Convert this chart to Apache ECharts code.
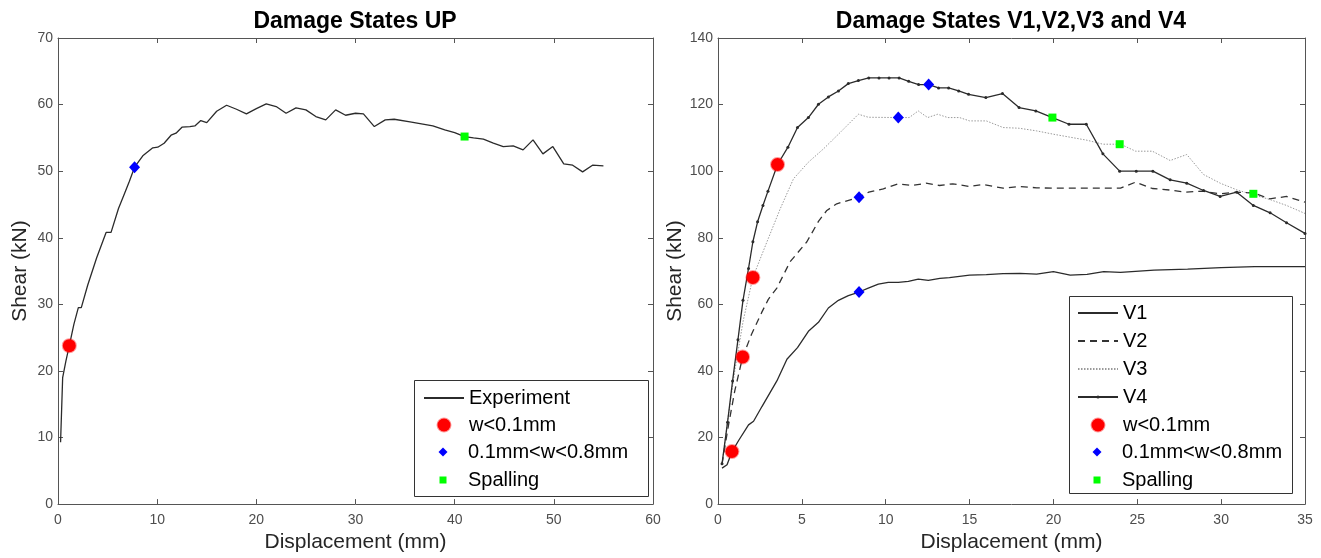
<!DOCTYPE html>
<html>
<head>
<meta charset="utf-8">
<script src="https://cdn.jsdelivr.net/npm/echarts@6/dist/echarts.min.js"></script>
<style>
  html, body { margin: 0; padding: 0; background: #fff; }
  #chart { width: 1321px; height: 558px; }
</style>
</head>
<body>
<div id="chart"></div>
<script>
// Left panel: experiment curve (displacement mm, shear kN)
const experiment = [
  [0.26, 9.3], [0.47, 19], [0.8, 21.5], [1.14, 23.8], [1.6, 27], [2.05, 29.5], [2.35, 29.5],
  [3.0, 32.9], [3.9, 37], [4.85, 40.8], [5.35, 40.8], [6.1, 44.4], [6.7, 46.6], [7.2, 48.5],
  [7.72, 50.6], [8.55, 52.3], [9.56, 53.5], [10.06, 53.6], [10.7, 54.2], [11.4, 55.4], [11.9, 55.7],
  [12.5, 56.6], [13.3, 56.7], [13.8, 56.8], [14.4, 57.6], [15.0, 57.3], [16.0, 59.0], [17.0, 59.9],
  [18.0, 59.3], [19.0, 58.6], [20.0, 59.4], [21.0, 60.1], [22.0, 59.7], [23.0, 58.7], [24.0, 59.5],
  [25.0, 59.2], [26.0, 58.2], [27.0, 57.7], [28.0, 59.2], [29.0, 58.4], [30.0, 58.7], [30.8, 58.6],
  [31.9, 56.7], [33.0, 57.7], [33.9, 57.8], [35.5, 57.4], [37.8, 56.8], [39.0, 56.2], [40.0, 55.8],
  [41.0, 55.2], [41.9, 55.0], [42.9, 54.8], [43.9, 54.2], [44.9, 53.7], [45.9, 53.8], [46.9, 53.2],
  [47.9, 54.7], [48.9, 52.6], [49.9, 53.7], [51.0, 51.1], [51.9, 50.9], [52.9, 49.9], [53.9, 50.9],
  [55.0, 50.8]
]
const upSmallCrack = [[1.14, 23.8]]
const upWideCrack = [[7.72, 50.6]]
const upSpalling = [[41.0, 55.2]]

// Right panel: V1..V4
const v1 = [
  [0.24, 10.8], [0.54, 11.8], [0.83, 15.7], [1.23, 19.1], [1.82, 23.8], [2.12, 24.9], [2.62, 29.3],
  [3.51, 37.0], [4.11, 43.5], [4.74, 47.0], [5.39, 51.9], [5.99, 54.6], [6.58, 58.9], [7.18, 61.2],
  [7.77, 62.6], [8.41, 63.7], [8.96, 64.9], [9.56, 66.1], [10.15, 66.6], [10.75, 66.6], [11.35, 66.9],
  [11.94, 67.6], [12.54, 67.2], [13.23, 67.8], [13.8, 68.0], [15.0, 68.8], [16.0, 68.9], [17.0, 69.2],
  [18.0, 69.3], [19.0, 69.1], [20.0, 69.8], [21.0, 68.8], [22.0, 69.0], [23.0, 69.8], [24.0, 69.6],
  [26.0, 70.3], [28.0, 70.6], [30.0, 71.0], [32.0, 71.3], [35.0, 71.3]
]
const v2 = [
  [0.24, 12], [0.6, 23], [1.0, 34], [1.47, 44.2], [2.0, 51], [2.6, 57.5], [3.0, 61.5], [3.51, 64.9],
  [4.3, 72.8], [5.3, 78.8], [6.0, 85], [6.49, 88.2], [7.08, 90.2], [8.41, 92.2], [8.99, 93.7],
  [9.86, 94.7], [10.75, 96.2], [11.6, 95.7], [12.4, 96.4], [13.2, 95.7], [14.0, 96.2], [15.0, 95.4],
  [15.8, 96.0], [17.0, 94.9], [18.0, 95.4], [19.0, 95.0], [20.0, 94.9], [22.0, 94.9], [24.0, 94.9],
  [24.9, 96.7], [25.9, 94.8], [27.0, 94.3], [27.9, 93.7], [28.9, 94.0], [29.9, 93.2], [30.9, 93.7],
  [31.9, 93.5], [32.9, 91.7], [33.9, 92.4], [35.0, 90.7]
]
const v3 = [
  [0.24, 12], [0.6, 26], [1.0, 40], [1.5, 55], [2.08, 68.1], [2.92, 78.8], [3.71, 88.7], [4.5, 97.7],
  [5.39, 102.7], [6.29, 106.7], [7.28, 111.6], [8.37, 117.1], [8.96, 116.2], [10.75, 116.1],
  [11.4, 116.1], [11.94, 118.1], [12.5, 116.1], [13.1, 117.1], [13.7, 116.1], [14.4, 116.1],
  [15.0, 115.1], [16.0, 115.1], [17.0, 113.1], [17.95, 112.9], [19.0, 112.1], [20.0, 111.1],
  [22.0, 109.3], [22.95, 108.1], [24.0, 108.1], [24.9, 106.0], [25.9, 106.0], [26.96, 103.2],
  [27.95, 105.0], [28.95, 99.0], [29.94, 96.4], [30.93, 94.4], [31.92, 92.9], [32.9, 91.5],
  [33.9, 89.7], [35.0, 87.3]
]
const v4 = [
  [0.24, 12.1], [0.57, 24.6], [0.87, 37.0], [1.19, 49.4], [1.49, 61.2], [1.82, 70.8], [2.08, 78.8],
  [2.36, 84.8], [2.68, 89.7], [2.98, 94.0], [3.55, 102.0], [4.17, 107.2], [4.74, 113.1], [5.39, 116.1],
  [5.99, 120.1], [6.58, 122.3], [7.18, 124.1], [7.77, 126.3], [8.37, 127.2], [8.99, 128.0], [9.6, 128],
  [10.2, 128], [10.8, 128], [11.37, 127.0], [11.96, 126.0], [12.56, 126.0], [13.15, 125.0], [13.75, 125],
  [14.35, 124.1], [14.94, 123.1], [15.97, 122.1], [16.96, 123.3], [17.95, 119.1], [18.95, 118.1],
  [19.94, 116.1], [20.93, 114.1], [21.96, 114.1], [22.95, 105.2], [23.95, 100.0], [24.94, 100],
  [25.93, 100], [26.96, 97.4], [27.95, 96.4], [28.95, 94.2], [29.94, 92.4], [30.93, 93.7],
  [31.92, 89.7], [32.92, 87.5], [33.9, 84.5], [35.0, 81.3]
]
const vSmallCrack = [[0.83, 15.8], [1.47, 44.2], [2.08, 68.1], [3.55, 102.0]]
const vWideCrack = [[8.41, 63.7], [8.41, 92.2], [10.75, 116.1], [12.56, 126.0]]
const vSpalling = [[19.94, 116.1], [23.95, 108.1], [31.92, 93.2]]

const FONT = '"Liberation Sans", Arial, Helvetica, sans-serif'
const AXIS_COLOR = '#555'
const LINE_COLOR = '#2b2b2b'

const chart = echarts.init(document.getElementById('chart'))

// shared axis builders
const mainX = (grid, max, interval) => ({
  type: 'value', gridIndex: grid, min: 0, max, interval,
  name: 'Displacement (mm)', nameLocation: 'middle', nameGap: 27,
  nameTextStyle: { fontFamily: FONT, fontSize: 21, color: '#262626' },
  axisLine: { show: true, onZero: false, lineStyle: { color: AXIS_COLOR, width: 1 } },
  axisTick: { show: true, inside: true, length: 5, lineStyle: { color: AXIS_COLOR } },
  axisLabel: { margin: 9, fontFamily: FONT, fontSize: 14, color: '#4d4d4d' },
  splitLine: { show: false }
})
const topX = (grid, max, interval) => ({
  type: 'value', gridIndex: grid, position: 'top', min: 0, max, interval,
  axisLine: { show: true, onZero: false, lineStyle: { color: AXIS_COLOR, width: 1 } },
  axisTick: { show: true, inside: true, length: 5, lineStyle: { color: AXIS_COLOR } },
  axisLabel: { show: false }, splitLine: { show: false }
})
const mainY = (grid, max, interval) => ({
  type: 'value', gridIndex: grid, min: 0, max, interval,
  name: 'Shear (kN)', nameLocation: 'middle', nameGap: 27,
  nameTextStyle: { fontFamily: FONT, fontSize: 21, color: '#262626' },
  axisLine: { show: true, onZero: false, lineStyle: { color: AXIS_COLOR, width: 1 } },
  axisTick: { show: true, inside: true, length: 5, lineStyle: { color: AXIS_COLOR } },
  axisLabel: { margin: 5, fontFamily: FONT, fontSize: 14, color: '#4d4d4d' },
  splitLine: { show: false }
})
const rightY = (grid, max, interval) => ({
  type: 'value', gridIndex: grid, position: 'right', min: 0, max, interval,
  axisLine: { show: true, onZero: false, lineStyle: { color: AXIS_COLOR, width: 1 } },
  axisTick: { show: true, inside: true, length: 5, lineStyle: { color: AXIS_COLOR } },
  axisLabel: { show: false }, splitLine: { show: false }
})

// marker series
const smallCrack = (x, y, data) => ({
  name: 'w<0.1mm', type: 'scatter', xAxisIndex: x, yAxisIndex: y, data, z: 5,
  symbol: 'circle', symbolSize: 13,
  itemStyle: { color: '#ff0000', opacity: 1, borderColor: 'rgba(255,0,0,0.4)', borderWidth: 2 }
})
const wideCrack = (x, y, data) => ({
  name: '0.1mm<w<0.8mm', type: 'scatter', xAxisIndex: x, yAxisIndex: y, data, z: 5,
  symbol: 'diamond', symbolSize: [11, 12], itemStyle: { color: '#0000ff', opacity: 1 }
})
const spalling = (x, y, data) => ({
  name: 'Spalling', type: 'scatter', xAxisIndex: x, yAxisIndex: y, data, z: 5,
  symbol: 'rect', symbolSize: 8, itemStyle: { color: '#00ff00', opacity: 1 }
})

// one legend per entry so each row sits where the reference has it
const TEXT_STYLE = { fontFamily: FONT, fontSize: 20, color: '#000' }
const lineRow = (name, left, centerY, itemHeight, hideSymbol) => ({
  data: [hideSymbol ? { name, itemStyle: { opacity: 0 } } : name],
  left, top: centerY - 10, orient: 'vertical', padding: 0,
  itemWidth: 40, itemHeight, selectedMode: false, z: 10, textStyle: TEXT_STYLE
})
// marker rows: icon box = marker size, centred 20px right of the line rows' start
const markerRow = (name, lineLeft, centerY, size) => ({
  data: [{ name, itemStyle: { opacity: 1 } }], left: lineLeft + 20 - size / 2, top: centerY - 10,
  orient: 'vertical', padding: 0,
  itemWidth: size, itemHeight: size, selectedMode: false, z: 10,
  textStyle: Object.assign({ padding: [0, 0, 0, 20 - size / 2] }, TEXT_STYLE)
})

chart.setOption({
  animation: false,
  title: [
    { text: 'Damage States UP', left: 355, top: 10, textAlign: 'center', padding: 0,
      textStyle: { fontFamily: FONT, fontSize: 23, fontWeight: 'bold', color: '#000' } },
    { text: 'Damage States V1,V2,V3 and V4', left: 1011, top: 10, textAlign: 'center', padding: 0,
      textStyle: { fontFamily: FONT, fontSize: 23, fontWeight: 'bold', color: '#000' } }
  ],
  grid: [
    { left: 58, right: 668, top: 38, bottom: 51 },
    { left: 718, right: 16, top: 38, bottom: 51 }
  ],
  xAxis: [mainX(0, 60, 10), topX(0, 60, 10), mainX(1, 35, 5), topX(1, 35, 5)],
  yAxis: [mainY(0, 70, 10), rightY(0, 70, 10), mainY(1, 140, 20), rightY(1, 140, 20)],
  graphic: [
    { type: 'rect', z: 8, shape: { x: 414.5, y: 380.5, width: 234, height: 116 },
      style: { fill: '#fff', stroke: '#333', lineWidth: 1 } },
    { type: 'rect', z: 8, shape: { x: 1069.5, y: 296.5, width: 223, height: 197 },
      style: { fill: '#fff', stroke: '#333', lineWidth: 1 } }
  ],
  legend: [
    lineRow('Experiment', 423, 398, 14, true),
    markerRow('w<0.1mm', 423, 425, 13),
    markerRow('0.1mm<w<0.8mm', 423, 452, 9),
    markerRow('Spalling', 423, 480, 7),
    lineRow('V1', 1077, 313, 14, true),
    lineRow('V2', 1077, 341, 14, true),
    lineRow('V3', 1077, 369, 14, true),
    lineRow('V4', 1077, 397, 4, false),
    markerRow('w<0.1mm', 1077, 425, 13),
    markerRow('0.1mm<w<0.8mm', 1077, 452, 9),
    markerRow('Spalling', 1077, 480, 7)
  ],
  series: [
    { name: 'Experiment', type: 'line', xAxisIndex: 0, yAxisIndex: 0, data: experiment,
      symbol: 'none', lineStyle: { color: LINE_COLOR, width: 1.3 }, itemStyle: { color: LINE_COLOR } },
    smallCrack(0, 0, upSmallCrack),
    wideCrack(0, 0, upWideCrack),
    spalling(0, 0, upSpalling),
    { name: 'V1', type: 'line', xAxisIndex: 2, yAxisIndex: 2, data: v1,
      symbol: 'none', lineStyle: { color: LINE_COLOR, width: 1.3 }, itemStyle: { color: LINE_COLOR } },
    { name: 'V2', type: 'line', xAxisIndex: 2, yAxisIndex: 2, data: v2,
      symbol: 'none', lineStyle: { color: '#333', width: 1.3, type: [7, 5] }, itemStyle: { color: '#333' } },
    { name: 'V3', type: 'line', xAxisIndex: 2, yAxisIndex: 2, data: v3,
      symbol: 'none', lineStyle: { color: '#9a9a9a', width: 1, type: [1.5, 1.5] }, itemStyle: { color: '#9a9a9a' } },
    { name: 'V4', type: 'line', xAxisIndex: 2, yAxisIndex: 2, data: v4,
      symbol: 'circle', symbolSize: 3, showSymbol: true, showAllSymbol: true,
      lineStyle: { color: LINE_COLOR, width: 1.3 }, itemStyle: { color: LINE_COLOR } },
    smallCrack(2, 2, vSmallCrack),
    wideCrack(2, 2, vWideCrack),
    spalling(2, 2, vSpalling)
  ]
})
</script>
</body>
</html>
